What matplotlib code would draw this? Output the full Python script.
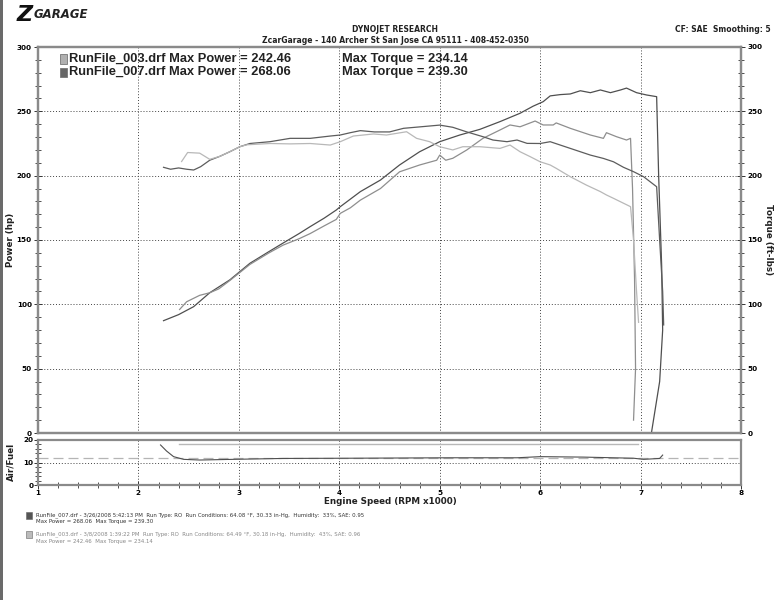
import numpy as np
import matplotlib
matplotlib.use('Agg')
import matplotlib.pyplot as plt
from matplotlib.patches import Rectangle
from matplotlib.ticker import MultipleLocator

# RunFile_007 (dark) power, hp
rpm_p007 = [2.25, 2.40, 2.55, 2.71, 2.91, 3.11, 3.30, 3.44, 3.60, 3.71, 3.85, 3.97, 4.01,
            4.21, 4.41, 4.60, 4.80, 5.00, 5.20, 5.40, 5.60, 5.80, 5.93, 6.03, 6.10, 6.20,
            6.30, 6.40, 6.50, 6.60, 6.70, 6.80, 6.86, 6.96, 7.06, 7.16, 7.18, 7.21, 7.22,
            7.19, 7.11]
hp_007 = [87.3, 92, 98.2, 109, 119, 131.9, 141, 147.6, 155, 160.4, 167, 173.3, 175.9,
          187.6, 196.6, 208.3, 218.6, 226.4, 231.6, 236, 242, 248.5, 254, 257.5, 262, 263,
          263.5, 266, 264.5, 266.6, 264.5, 266.6, 268.06, 264.5, 262.7, 261.4, 200, 130, 80,
          40, 1]

# RunFile_007 (dark) torque, ft-lbs
rpm_t007 = [2.25, 2.32, 2.40, 2.48, 2.55, 2.62, 2.71, 2.81, 2.91, 3.01, 3.11, 3.31, 3.51,
            3.71, 3.91, 4.01, 4.11, 4.21, 4.35, 4.50, 4.64, 4.90, 5.00, 5.13, 5.27, 5.43,
            5.53, 5.67, 5.77, 5.87, 6.00, 6.10, 6.30, 6.40, 6.50, 6.63, 6.73, 6.83, 6.93,
            7.03, 7.16, 7.19, 7.22, 7.23]
tq_007 = [206.5, 205, 206, 205, 204.4, 207, 212, 215, 218.6, 222.5, 225, 226.4, 229,
          229, 230.8, 231.6, 233.4, 235, 234, 234, 236.8, 238.6, 239.3, 237.6, 234, 230.3,
          227.7, 226.4, 227.7, 225.1, 225, 226.4, 221.2, 218.6, 216, 213.4, 210.8, 206.5, 203.1,
          199.2, 191.4, 150, 110, 84]

# RunFile_003 (light) power, hp
rpm_p003 = [2.41, 2.48, 2.61, 2.71, 2.80, 2.91, 3.11, 3.30, 3.44, 3.60, 3.71, 3.85, 3.97,
            4.01, 4.11, 4.21, 4.41, 4.60, 4.80, 4.97, 5.00, 5.06, 5.13, 5.27, 5.43, 5.60,
            5.70, 5.80, 5.95, 6.03, 6.13, 6.16, 6.30, 6.40, 6.50, 6.63, 6.66, 6.76, 6.86,
            6.90, 6.92, 6.94, 6.95, 6.93]
hp_003 = [96, 102, 107, 109, 112, 118.5, 131, 140, 146, 151, 155, 161, 166,
          170.7, 175, 181, 190, 203, 208.3, 212, 216, 212, 213.5, 220, 229, 235.5,
          239.4, 238, 242.46, 239.4, 239.4, 241, 236.8, 234.2, 231.6, 229, 233.4, 230.3, 227.7,
          229, 190, 120, 50, 10]

# RunFile_003 (light) torque, ft-lbs
rpm_t003 = [2.43, 2.49, 2.61, 2.71, 2.81, 2.91, 3.01, 3.08, 3.31, 3.51, 3.71, 3.91, 4.01,
            4.14, 4.34, 4.47, 4.67, 4.77, 4.90, 5.00, 5.13, 5.23, 5.40, 5.60, 5.70, 5.80,
            5.90, 6.00, 6.10, 6.16, 6.30, 6.46, 6.60, 6.66, 6.73, 6.90, 6.93, 6.96, 6.98]
tq_003 = [211, 218, 217.5, 212.7, 215, 218.6, 222.5, 224, 225, 224.7, 225, 223.8, 226.4,
          230.8, 232.4, 231.6, 234.14, 229, 226.4, 222.5, 220, 222.5, 222.5, 221.2, 223.8, 218.6,
          214.8, 210.8, 208.3, 205.7, 199.2, 192.7, 187.6, 185, 182.4, 175.9, 150, 110, 86]

# Air/Fuel
rpm_af007 = [2.22, 2.28, 2.35, 2.45, 2.61, 2.94, 3.44, 4.10, 5.10, 5.77, 6.00, 6.43, 6.93,
             7.03, 7.19, 7.22]
af_007 = [17.8, 15.1, 12.6, 11.4, 11.1, 11.4, 11.8, 11.9, 12.1, 12.1, 12.6, 12.4, 11.9,
          11.4, 11.8, 13.3]
rpm_af003 = [2.40, 6.97]
af_003 = [18.0, 18.0]
af_ref = 12.0

header = ['DYNOJET RESEARCH', 'ZcarGarage - 140 Archer St San Jose CA 95111 - 408-452-0350']
run_info_007 = ['RunFile_007.drf - 3/26/2008 5:42:13 PM  Run Type: RO  Run Conditions: 64.08 \u00b0F, 30.33 in-Hg,  Humidity:  33%, SAE: 0.95',
                'Max Power = 268.06  Max Torque = 239.30']
run_info_003 = ['RunFile_003.drf - 3/8/2008 1:39:22 PM  Run Type: RO  Run Conditions: 64.49 \u00b0F, 30.18 in-Hg,  Humidity:  43%, SAE: 0.96',
                'Max Power = 242.46  Max Torque = 234.14']

W, H = 776, 600
fx = lambda px: px / W
fy = lambda py: 1 - py / H

dark_p, dark_t = '#4f4f4f', '#5c5c5c'
light_p, light_t = '#8e8e8e', '#b8b8b8'
grid_kw = dict(color='#444444', linestyle=(0, (1, 2)), linewidth=0.7)
frame_c = '#8a8a8a'

fig = plt.figure(figsize=(W / 100, H / 100), dpi=100)
fig.patch.set_facecolor('white')

ax = fig.add_axes([fx(38), fy(433), fx(741) - fx(38), fy(47) - fy(433)])
ax2 = ax.twinx()
ax.plot(rpm_p007, hp_007, color=dark_p, lw=0.9)
ax.plot(rpm_p003, hp_003, color=light_p, lw=0.9)
ax2.plot(rpm_t007, tq_007, color=dark_t, lw=0.9)
ax2.plot(rpm_t003, tq_003, color=light_t, lw=0.9)

for a in (ax, ax2):
    a.set_xlim(1, 8)
    a.set_ylim(0, 300)
    a.yaxis.set_major_locator(MultipleLocator(50))
    a.yaxis.set_minor_locator(MultipleLocator(10))
    for s in a.spines.values():
        s.set_color(frame_c)
        s.set_linewidth(1.6)
ax.set_xticks(range(1, 9))
ax.tick_params(axis='x', which='both', length=0, labelbottom=False)
for a in (ax, ax2):
    a.tick_params(axis='y', which='major', direction='inout', length=6, width=0.7,
                  labelsize=5.2, pad=1.5, color='#333333')
    a.tick_params(axis='y', which='minor', direction='inout', length=4, width=0.6, color='#333333')
for lab in ax.get_yticklabels() + ax2.get_yticklabels():
    lab.set_fontweight('bold')
ax.grid(True, which='major', **grid_kw)
ax.set_axisbelow(True)

# in-plot run legend
leg_rows = [(59, '#b0b0b0', 'RunFile_003.drf Max Power = 242.46', 'Max Torque = 234.14'),
            (72, '#666666', 'RunFile_007.drf Max Power = 268.06', 'Max Torque = 239.30')]
for yc, c, t1, t2 in leg_rows:
    fig.patches.append(Rectangle((fx(60), fy(yc + 4.5)), fx(67) - fx(60), fy(yc - 4.5) - fy(yc + 4.5),
                                 transform=fig.transFigure, facecolor=c, edgecolor='#777777', lw=0.6))
    fig.text(fx(69), fy(yc), t1, fontsize=9.3, fontweight='bold', family='Liberation Sans',
             color='#222222', va='center', ha='left')
    fig.text(fx(342), fy(yc), t2, fontsize=9.3, fontweight='bold', family='Liberation Sans',
             color='#222222', va='center', ha='left')

# air/fuel panel
af = fig.add_axes([fx(38), fy(485), fx(741) - fx(38), fy(440) - fy(485)])
af.axhline(af_ref, color='#b5b5b5', lw=0.9, linestyle=(0, (8, 4)))
af.plot(rpm_af003, af_003, color=light_t, lw=1.0)
af.plot(rpm_af007, af_007, color=dark_p, lw=0.8)
af.set_xlim(1, 8)
af.set_ylim(0, 20)
af.set_yticks([0, 10, 20])
af.set_xticks(range(1, 9))
af.xaxis.set_minor_locator(MultipleLocator(0.2))
af.yaxis.set_minor_locator(MultipleLocator(2))
af.tick_params(which='major', direction='inout', length=6, width=0.7, labelsize=5.2, pad=0.5,
               color='#333333')
af.tick_params(which='minor', direction='inout', length=4, width=0.6, color='#333333')
for lab in af.get_xticklabels() + af.get_yticklabels():
    lab.set_fontweight('bold')
af.grid(True, which='major', **grid_kw)
for s in af.spines.values():
    s.set_color(frame_c)
    s.set_linewidth(1.6)

# axis titles
lab_kw = dict(fontsize=6.3, fontweight='bold', color='#222222', ha='center', va='center')
fig.text(fx(11), fy(240), 'Power (hp)', rotation=90, **lab_kw)
fig.text(fx(768), fy(240), 'Torque (ft-lbs)', rotation=270, **lab_kw)
fig.text(fx(11), fy(462), 'Air/Fuel', rotation=90, **lab_kw)
fig.text(fx(390), fy(501), 'Engine Speed (RPM x1000)', **lab_kw)

# header
fig.text(fx(395), fy(30), header[0], fontsize=5.5, fontweight='bold', ha='center', va='center',
         color='#222222')
fig.text(fx(395), fy(40.5), header[1], fontsize=5.5, fontweight='bold', ha='center', va='center',
         color='#222222')
fig.text(fx(771), fy(29), 'CF: SAE  Smoothing: 5', fontsize=5.5, fontweight='bold', ha='right',
         va='center', color='#222222')

# logo
fig.text(fx(17), fy(15), 'Z', fontsize=16, fontweight='bold', style='italic', color='#111111',
         ha='left', va='center')
fig.text(fx(34), fy(15), 'GARAGE', fontsize=8.5, fontweight='bold', style='italic',
         color='#222222', ha='left', va='center')

# run info block
blocks = [(515, '#555555', '#333333', run_info_007), (534, '#bbbbbb', '#888888', run_info_003)]
for y0, sq, tc, lines in blocks:
    fig.patches.append(Rectangle((fx(26), fy(y0 + 4)), fx(32) - fx(26), fy(y0 - 3) - fy(y0 + 4),
                                 transform=fig.transFigure, facecolor=sq, edgecolor='#666666', lw=0.4))
    fig.text(fx(36), fy(y0), lines[0], fontsize=3.9, color=tc, ha='left', va='center')
    fig.text(fx(36), fy(y0 + 7), lines[1], fontsize=3.9, color=tc, ha='left', va='center')

# scanned-page edge on the left
fig.patches.append(Rectangle((0, 0), fx(3), 1, transform=fig.transFigure, facecolor='#6a6a6a',
                             edgecolor='none'))

fig.savefig('out.png', dpi=100)
